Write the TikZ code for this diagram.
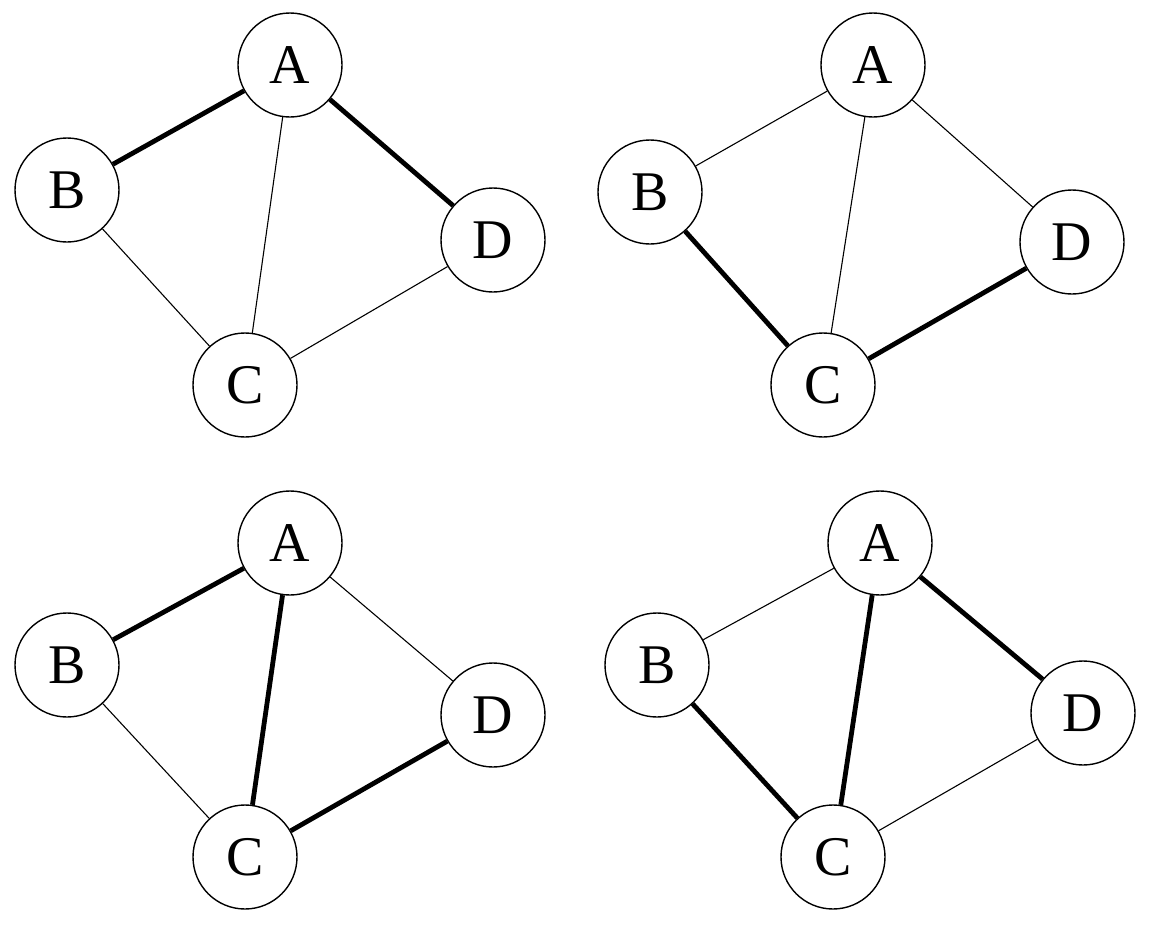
\documentclass[tikz,border=0pt]{standalone}
\usepackage{fontspec}
\setmainfont{Liberation Serif}
\usetikzlibrary{positioning}

\begin{document}
\begin{tikzpicture}[
  x=0.5pt, y=-0.5pt,
  vert/.style={circle, draw, line width=0.7pt, minimum size=52pt, inner sep=0pt,
               font=\fontsize{28}{30}\selectfont},
  thin edge/.style={line width=0.55pt},
  heavy/.style={line width=2.4pt},
]
\useasboundingbox (0,0) rectangle (1152,932);

% ---------- top left ----------
\node[vert] (A1) at (290,65)  {A};
\node[vert] (B1) at (67,190)  {B};
\node[vert] (D1) at (493,240) {D};
\node[vert] (C1) at (245,385) {C};
\draw[heavy] (A1) -- (B1);
\draw[heavy] (A1) -- (D1);
\draw[thin edge] (A1) -- (C1);
\draw[thin edge] (B1) -- (C1);
\draw[thin edge] (C1) -- (D1);

% ---------- top right ----------
\node[vert] (A2) at (873,65)  {A};
\node[vert] (B2) at (650,192) {B};
\node[vert] (D2) at (1072,242) {D};
\node[vert] (C2) at (823,385) {C};
\draw[thin edge] (A2) -- (B2);
\draw[thin edge] (A2) -- (D2);
\draw[thin edge] (A2) -- (C2);
\draw[heavy] (B2) -- (C2);
\draw[heavy] (C2) -- (D2);

% ---------- bottom left ----------
\node[vert] (A3) at (290,543) {A};
\node[vert] (B3) at (67,665)  {B};
\node[vert] (D3) at (493,715) {D};
\node[vert] (C3) at (245,857) {C};
\draw[heavy] (A3) -- (B3);
\draw[thin edge] (A3) -- (D3);
\draw[heavy] (A3) -- (C3);
\draw[thin edge] (B3) -- (C3);
\draw[heavy] (C3) -- (D3);

% ---------- bottom right ----------
\node[vert] (A4) at (880,543) {A};
\node[vert] (B4) at (657,665) {B};
\node[vert] (D4) at (1083,713) {D};
\node[vert] (C4) at (833,857) {C};
\draw[thin edge] (A4) -- (B4);
\draw[heavy] (A4) -- (D4);
\draw[heavy] (A4) -- (C4);
\draw[heavy] (B4) -- (C4);
\draw[thin edge] (C4) -- (D4);

\end{tikzpicture}
\end{document}
